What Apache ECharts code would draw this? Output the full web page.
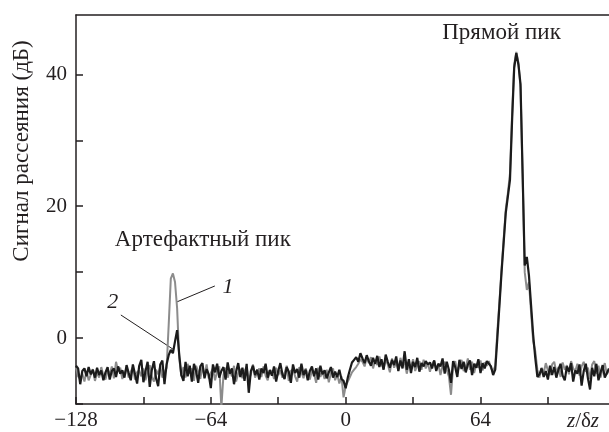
<!DOCTYPE html>
<html><head><meta charset="utf-8">
<script src="https://cdn.jsdelivr.net/npm/echarts@6/dist/echarts.min.js"></script>
<style>html,body{margin:0;padding:0;background:#fff}#c{width:609px;height:432px}</style>
</head><body><div id="c"></div>
<script>
// x grid: z/δz from -128 to 125, step 1
const zStart = -128;
const zEnd = 125;
const xTickLabels = [-128, -64, 0, 64];
const yTickLabels = [0, 20, 40];
const yTitle = 'Сигнал рассеяния (дБ)';
const xTitle = 'z/δz';
const peakLabel = 'Прямой пик';
const artLabel = 'Артефактный пик';

// curve 1 (grey)
const curve1 = [
  -4.5, -5.8, -6.2, -5.4, -6.6, -5.0, -6.4, -5.6, -4.7, -6.5,
  -5.2, -6.0, -4.4, -5.7, -6.3, -4.9, -5.5, -4.3, -6.1, -3.6,
  -5.0, -4.5, -6.2, -5.3, -4.7, -6.0, -5.1, -4.4, -6.3, -5.2,
  -4.9, -5.8, -4.6, -6.4, -5.0, -4.1, -5.9, -6.6, -4.8, -5.5,
  -4.3, -6.0, -5.2, -4.5, 2.0, 9.0, 9.8, 8.5, 4.5, -3.0,
  -5.8, -4.4, -6.0, -3.9, -5.4, -4.6, -6.5, -4.2, -5.1, -6.2,
  -4.4, -5.7, -4.0, -6.1, -5.3, -4.6, -6.4, -5.0, -4.3, -10.5,
  -5.6, -4.5, -6.0, -4.9, -5.8, -4.2, -6.6, -5.3, -4.7, -6.1,
  -5.0, -4.4, -6.3, -5.5, -4.0, -6.0, -5.2, -4.6, -5.9, -4.3,
  -5.7, -6.4, -4.8, -5.1, -6.2, -4.5, -5.6, -4.9, -6.0, -5.3,
  -4.2, -6.5, -5.0, -4.7, -5.8, -6.6, -4.4, -5.2, -6.1, -4.6,
  -5.5, -6.3, -4.9, -5.4, -6.8, -4.5, -5.9, -5.1, -6.2, -4.8,
  -6.7, -5.3, -4.6, -6.4, -5.5, -6.9, -5.8, -9.0, -7.3, -6.6,
  -5.9, -5.2, -4.8, -4.4, -3.9, -3.2, -3.6, -4.3, -3.0, -3.8,
  -2.9, -4.6, -3.4, -4.1, -2.8, -3.9, -4.7, -3.3, -4.0, -5.2,
  -3.1, -4.5, -3.7, -4.9, -3.0, -4.2, -3.6, -5.4, -3.9, -4.4,
  -3.2, -5.0, -4.1, -3.5, -4.8, -3.3, -4.6, -3.8, -5.1, -4.0,
  -3.4, -4.7, -3.9, -5.6, -4.2, -3.6, -4.9, -5.8, -8.6, -4.3,
  -3.5, -5.2, -4.1, -3.3, -5.0, -4.4, -3.1, -4.8, -3.6, -5.3,
  -3.9, -4.5, -3.4, -4.9, -3.7, -4.2, -3.5, -4.6, -5.0, -4.2,
  1.0, 5.5, 10.5, 15.0, 19.5, 22.0, 25.0, 34.0, 41.5, 43.4,
  41.8, 38.0, 24.5, 10.0, 7.3, 8.5, 4.0, -0.5, -2.0, -4.8,
  -6.0, -4.5, -5.3, -3.8, -4.9, -5.6, -4.0, -3.6, -5.2, -4.4,
  -5.9, -3.7, -4.8, -4.1, -5.5, -3.5, -4.6, -5.0, -3.9, -5.7,
  -4.3, -3.6, -5.1, -4.5, -6.2, -4.0, -3.5, -5.4, -4.2, -6.0,
  -4.7, -3.8, -5.5, -4.9
];

// curve 2 (black)
const curve2 = [
  -4.2, -4.6, -7.0, -5.0, -4.6, -5.8, -4.4, -5.5, -4.8, -6.0,
  -4.5, -5.6, -4.9, -6.4, -5.2, -4.4, -6.3, -5.0, -4.6, -5.9,
  -4.3, -5.4, -4.9, -6.0, -4.1, -5.3, -6.4, -4.0, -5.5, -6.9,
  -4.2, -3.3, -6.7, -5.0, -3.6, -7.4, -4.8, -3.5, -6.1, -7.3,
  -4.0, -3.4, -7.0, -4.0, -2.6, -1.8, -2.3, -0.5, 1.2, -2.5,
  -5.6, -6.5, -3.6, -5.8, -4.2, -6.6, -3.9, -5.0, -6.8, -4.3,
  -3.8, -6.1, -4.7, -5.5, -7.6, -4.0, -5.2, -3.9, -6.0, -5.0,
  -4.4, -6.3, -3.7, -5.4, -4.6, -7.0, -5.1, -3.8, -5.9, -4.5,
  -6.5, -3.9, -8.3, -5.0, -4.2, -5.6, -4.8, -6.3, -4.6, -5.3,
  -3.9, -6.0, -4.9, -5.7, -4.3, -6.6, -5.0, -3.8, -5.5, -6.2,
  -4.4, -5.1, -6.8, -4.0, -5.3, -4.7, -6.0, -3.9, -5.6, -4.8,
  -6.4, -5.0, -4.3, -5.8, -4.6, -6.3, -4.2, -5.5, -4.9, -6.1,
  -5.2, -4.4, -6.0, -5.1, -5.9, -4.8, -6.2, -6.5, -7.6, -6.0,
  -4.8, -3.7, -3.3, -2.9, -3.6, -2.3, -3.1, -3.8, -2.6, -3.5,
  -4.2, -3.0, -3.9, -2.7, -4.4, -3.2, -4.8, -2.5, -3.6, -4.5,
  -3.3, -4.1, -2.8, -5.0, -3.4, -4.6, -2.0, -4.8, -3.2, -5.3,
  -3.6, -4.4, -3.0, -5.1, -3.8, -4.3, -3.5, -4.0, -3.7, -4.6,
  -3.4, -5.0, -3.9, -4.3, -3.1, -5.4, -3.6, -4.8, -6.8, -3.5,
  -4.4, -5.9, -3.3, -4.7, -3.6, -5.2, -4.0, -3.4, -5.6, -3.9,
  -4.5, -3.2, -5.3, -3.8, -4.6, -3.5, -3.9, -4.3, -5.6, -4.8,
  0.0, 5.0, 10.0, 14.5, 19.0, 21.5, 24.0, 33.0, 41.0, 43.2,
  41.5, 38.5, 25.0, 11.0, 12.3, 9.5, 5.0, 0.5, -3.0, -5.9,
  -5.5, -4.6, -5.9, -5.0, -6.3, -4.2, -5.6, -4.4, -6.0, -4.8,
  -3.9, -5.7, -6.4, -4.3, -5.1, -3.8, -6.6, -4.9, -5.4, -4.0,
  -7.2, -5.0, -3.9, -6.1, -7.8, -4.5, -5.8, -3.9, -6.4, -5.2,
  -4.1, -6.0, -5.3, -4.6
];

// annotation anchors in data coordinates
const peakLabelAt = [74, 46.3];
const artLabelAt = [-67.8, 14.9];
const label1At = [-55.9, 7.7];
const label2At = [-110.5, 5.5];
const leader1 = [[-62.1, 7.9], [-80.0, 5.5]];
const leader2 = [[-106.7, 3.5], [-81.9, -1.7]];

const z = [];
for (let v = zStart; v <= zEnd; v++) z.push(v);
const pts1 = z.map((v, i) => [v, curve1[i]]);
const pts2 = z.map((v, i) => [v, curve2[i]]);

const FONT = "'Liberation Serif', 'DejaVu Serif', serif";
const TXT = '#231f20';
const fmtNum = v => String(v).replace('-', '\u2212');

const chart = echarts.init(document.getElementById('c'), null, {renderer: 'canvas'});
chart.setOption({
  animation: false,
  backgroundColor: '#fff',
  grid: {left: 76, right: 0, top: 15, bottom: 28},
  xAxis: [{
    type: 'value', min: zStart, max: zEnd, interval: 32,
    axisLine: {show: true, onZero: false, lineStyle: {color: TXT, width: 1.5}},
    axisTick: {show: true, inside: true, length: 7, lineStyle: {color: TXT, width: 1.5}},
    splitLine: {show: false},
    axisLabel: {
      margin: 6, fontFamily: FONT, fontSize: 21, color: TXT,
      showMaxLabel: false,
      formatter: v => xTickLabels.indexOf(v) >= 0 ? fmtNum(v) : ''
    }
  }, {
    type: 'value', position: 'top', min: zStart, max: zEnd,
    axisLine: {show: true, onZero: false, lineStyle: {color: TXT, width: 1.5}},
    axisTick: {show: false}, axisLabel: {show: false}, splitLine: {show: false}
  }],
  yAxis: {
    type: 'value', min: -10, max: 49, interval: 10,
    axisLine: {show: true, onZero: false, lineStyle: {color: TXT, width: 1.5}},
    axisTick: {show: true, inside: true, length: 7, lineStyle: {color: TXT, width: 1.5}},
    splitLine: {show: false},
    axisLabel: {
      margin: 9, fontFamily: FONT, fontSize: 21, color: TXT,
      showMaxLabel: false,
      formatter: v => yTickLabels.indexOf(v) >= 0 ? fmtNum(v) : ''
    }
  },
  series: [{
    name: '1', type: 'line', data: pts1, showSymbol: false, symbol: 'none',
    lineStyle: {color: '#8c8c8c', width: 2}, z: 2
  }, {
    name: '2', type: 'line', data: pts2, showSymbol: false, symbol: 'none',
    lineStyle: {color: '#1b1b1b', width: 2.2}, z: 3
  }]
});

const px = p => chart.convertToPixel({xAxisIndex: 0, yAxisIndex: 0}, p);
const pPeak = px(peakLabelAt), pArt = px(artLabelAt), p1 = px(label1At), p2 = px(label2At);
const l1a = px(leader1[0]), l1b = px(leader1[1]), l2a = px(leader2[0]), l2b = px(leader2[1]);

chart.setOption({
  graphic: [
    {type: 'text', x: pPeak[0], y: pPeak[1], style: {text: peakLabel, font: '23px ' + FONT, fill: TXT, align: 'center', verticalAlign: 'middle'}},
    {type: 'text', x: pArt[0], y: pArt[1], style: {text: artLabel, font: '23px ' + FONT, fill: TXT, align: 'center', verticalAlign: 'middle'}},
    {type: 'text', x: p1[0], y: p1[1], style: {text: '1', font: 'italic 22px ' + FONT, fill: TXT, align: 'center', verticalAlign: 'middle'}},
    {type: 'text', x: p2[0], y: p2[1], style: {text: '2', font: 'italic 22px ' + FONT, fill: TXT, align: 'center', verticalAlign: 'middle'}},
    {type: 'line', shape: {x1: l1a[0], y1: l1a[1], x2: l1b[0], y2: l1b[1]}, style: {stroke: TXT, lineWidth: 1}},
    {type: 'line', shape: {x1: l2a[0], y1: l2a[1], x2: l2b[0], y2: l2b[1]}, style: {stroke: TXT, lineWidth: 1}},
    {type: 'text', x: 22, y: 151, rotation: Math.PI / 2,
      style: {text: yTitle, font: '23px ' + FONT, fill: TXT, align: 'center', verticalAlign: 'middle'}},
    {type: 'text', x: 583, y: 421,
      style: {
        text: '{i|z}{n|/δ}{i|z}',
        rich: {
          i: {fontFamily: FONT, fontSize: 21, fontStyle: 'italic', fill: TXT, color: TXT},
          n: {fontFamily: FONT, fontSize: 21, fill: TXT, color: TXT}
        },
        align: 'center', verticalAlign: 'middle'
      }}
  ]
});
</script>
</body></html>
